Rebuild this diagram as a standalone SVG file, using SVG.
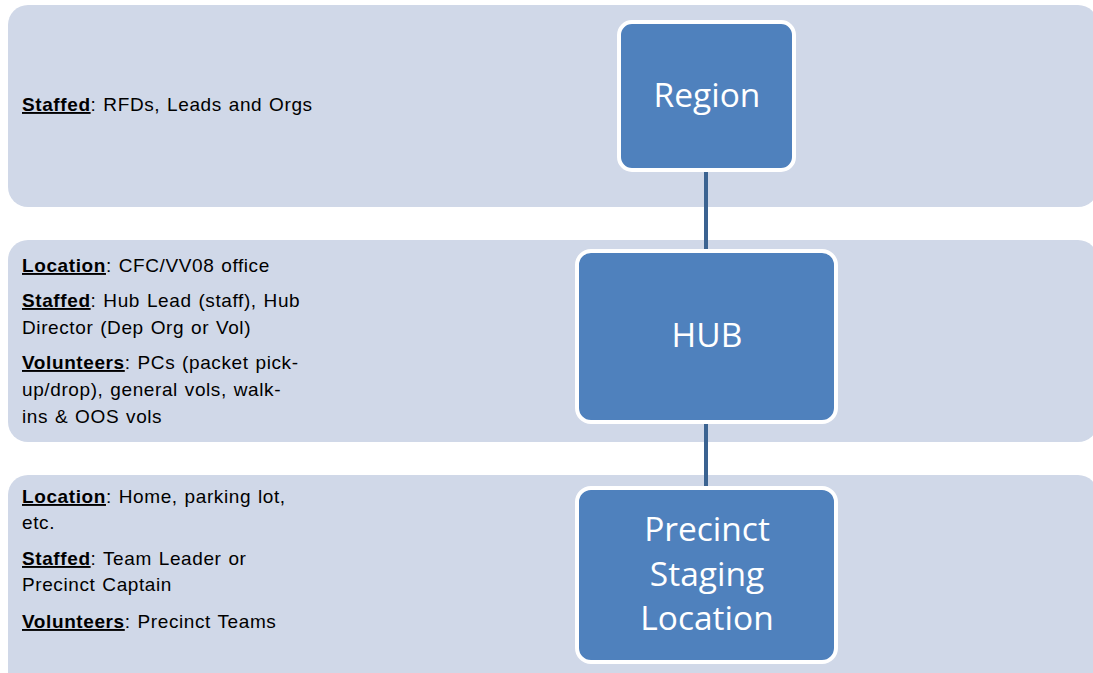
<svg xmlns="http://www.w3.org/2000/svg" width="1093" height="673" viewBox="0 0 1093 673">
<style>
.band{fill:#d0d8e8;}
.node{fill:#4f81bd;stroke:#ffffff;stroke-width:4;}
.conn{stroke:#3b6391;stroke-width:4;fill:none;}
.lbl{font-family:"Liberation Sans",Arial,sans-serif;font-size:19px;fill:#000;word-spacing:1px;letter-spacing:0.6px;}
.lbl .k{font-weight:bold;text-decoration:underline;}
.nt{font-family:"Open Sans","Noto Sans",sans-serif;font-size:33.5px;fill:#ffffff;text-anchor:middle;}
</style>
<rect width="1093" height="673" fill="#ffffff"/>
<g id="bands">
<rect id="band-region" class="band" x="8" y="5" width="1090" height="202" rx="20"/>
<rect id="band-hub" class="band" x="8" y="240" width="1090" height="202" rx="20"/>
<rect id="band-precinct" class="band" x="8" y="475" width="1090" height="220" rx="20"/>
</g>
<g id="connectors">
<line class="conn" x1="706" y1="168" x2="706" y2="252"/>
<line class="conn" x1="706" y1="420" x2="706" y2="490"/>
</g>
<g id="node-region">
<rect class="node" x="619" y="22" width="175" height="148" rx="13"/>
<text class="nt" x="707" y="107">Region</text>
</g>
<g id="node-hub">
<rect class="node" x="577" y="251" width="259" height="171" rx="14"/>
<text class="nt" x="707" y="347">HUB</text>
</g>
<g id="node-precinct">
<rect class="node" x="577" y="488" width="259" height="174" rx="14"/>
<text class="nt" x="707" y="541">Precinct</text>
<text class="nt" x="707" y="586">Staging</text>
<text class="nt" x="707" y="630">Location</text>
</g>
<g id="text-region">
<text class="lbl" x="22" y="111"><tspan class="k">Staffed</tspan>: RFDs, Leads and Orgs</text>
</g>
<g id="text-hub">
<text class="lbl" x="22" y="272"><tspan class="k">Location</tspan>: CFC/VV08 office</text>
<text class="lbl" x="22" y="307"><tspan class="k">Staffed</tspan>: Hub Lead (staff), Hub</text>
<text class="lbl" x="22" y="334">Director (Dep Org or Vol)</text>
<text class="lbl" x="22" y="369"><tspan class="k">Volunteers</tspan>: PCs (packet pick-</text>
<text class="lbl" x="22" y="396">up/drop), general vols, walk-</text>
<text class="lbl" x="22" y="423">ins &amp; OOS vols</text>
</g>
<g id="text-precinct">
<text class="lbl" x="22" y="503"><tspan class="k">Location</tspan>: Home, parking lot,</text>
<text class="lbl" x="22" y="529">etc.</text>
<text class="lbl" x="22" y="565"><tspan class="k">Staffed</tspan>: Team Leader or</text>
<text class="lbl" x="22" y="591">Precinct Captain</text>
<text class="lbl" x="22" y="628"><tspan class="k">Volunteers</tspan>: Precinct Teams</text>
</g>
</svg>
